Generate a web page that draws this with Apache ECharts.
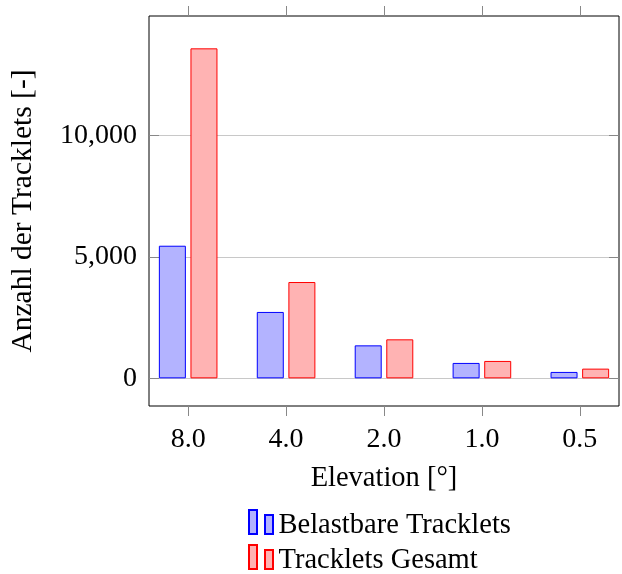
<!DOCTYPE html>
<html>
<head>
<meta charset="utf-8">
<script src="https://cdn.jsdelivr.net/npm/echarts@6/dist/echarts.min.js"></script>
<style>
  html, body { margin: 0; padding: 0; background: #fff; }
  #chart { width: 622px; height: 574px; }
</style>
</head>
<body>
<div id="chart"></div>
<script>
// Elevation classes (x axis) and tracklet counts per class
const categories = ['8.0', '4.0', '2.0', '1.0', '0.5'];
const belastbare = [5466, 2737, 1360, 635, 264];
const gesamt = [13602, 3970, 1608, 717, 400];
const yTicks = [0, 5000, 10000];
const seriesNames = ['Belastbare Tracklets', 'Tracklets Gesamt'];

const FONT = 'Liberation Serif';
const catIdx = categories.map((_, i) => i);
const yMin = -1140, yMax = 14935;
const xMin = -0.4, xMax = categories.length - 1 + 0.4;

const chart = echarts.init(document.getElementById('chart'), null, { renderer: 'canvas' });

const tickStyle = { color: '#888', width: 1 };

// one legend row per series; the icon is a pair of small bars, and the extra
// move-to point at the bottom lowers the text a little relative to the bars
const legendRow = (name, top) => ({
  orient: 'vertical',
  left: 248, top: top, padding: 0,
  itemWidth: 25, itemHeight: 31.5,
  icon: 'path://M0,0H8V24H0Z M16,5H24V24H16Z M24,31.5',
  textStyle: { fontFamily: FONT, fontSize: 28.5, color: '#000', lineHeight: 28 },
  data: [name]
});

chart.setOption({
  animation: false,
  backgroundColor: '#fff',
  textStyle: { fontFamily: FONT, color: '#000' },
  grid: {
    left: 149, right: 3, top: 16, bottom: 168,
    show: true, borderColor: '#000', borderWidth: 1, backgroundColor: 'transparent'
  },
  legend: [legendRow(seriesNames[0], 509), legendRow(seriesNames[1], 544)],
  xAxis: [
    {
      type: 'value', min: xMin, max: xMax,
      name: 'Elevation [°]', nameLocation: 'middle', nameGap: 58,
      nameTextStyle: { fontFamily: FONT, fontSize: 28.5, color: '#000' },
      axisLine: { show: false, onZero: false },
      axisTick: { show: true, inside: false, length: 10, lineStyle: tickStyle, customValues: catIdx },
      axisLabel: {
        show: true, margin: 20, fontFamily: FONT, fontSize: 28, color: '#000',
        customValues: catIdx,
        formatter: v => categories[Math.round(v)]
      },
      splitLine: { show: false }
    },
    {
      type: 'value', min: xMin, max: xMax, position: 'top',
      axisLine: { show: false, onZero: false },
      axisTick: { show: true, inside: false, length: 10, lineStyle: tickStyle, customValues: catIdx },
      axisLabel: { show: false },
      splitLine: { show: false }
    }
  ],
  yAxis: [
    {
      type: 'value', min: yMin, max: yMax,
      name: 'Anzahl der Tracklets [-]', nameLocation: 'middle', nameGap: 111, nameRotate: 90,
      nameTextStyle: { fontFamily: FONT, fontSize: 29.5, color: '#000' },
      axisLine: { show: false, onZero: false },
      axisTick: { show: true, inside: true, length: 10, lineStyle: tickStyle, customValues: yTicks },
      axisLabel: {
        show: true, margin: 12, fontFamily: FONT, fontSize: 28, color: '#000',
        customValues: yTicks,
        formatter: v => v.toLocaleString('en-US')
      },
      splitLine: { show: true, lineStyle: { color: '#c8c8c8', width: 1 } }
    },
    {
      type: 'value', min: yMin, max: yMax, position: 'right',
      axisLine: { show: false, onZero: false },
      axisTick: { show: true, inside: true, length: 10, lineStyle: tickStyle, customValues: yTicks },
      axisLabel: { show: false, customValues: yTicks },
      splitLine: { show: false }
    }
  ],
  series: [
    {
      name: seriesNames[0], type: 'bar',
      xAxisIndex: 0, yAxisIndex: 0,
      barWidth: 27, barGap: '17%',
      itemStyle: { color: '#b3b3ff', borderColor: '#0000ff', borderWidth: 1 },
      data: belastbare.map((v, i) => [i, v])
    },
    {
      name: seriesNames[1], type: 'bar',
      xAxisIndex: 0, yAxisIndex: 0,
      barWidth: 27, barGap: '17%',
      itemStyle: { color: '#ffb3b3', borderColor: '#ff0000', borderWidth: 1 },
      data: gesamt.map((v, i) => [i, v])
    }
  ]
});
</script>
</body>
</html>
